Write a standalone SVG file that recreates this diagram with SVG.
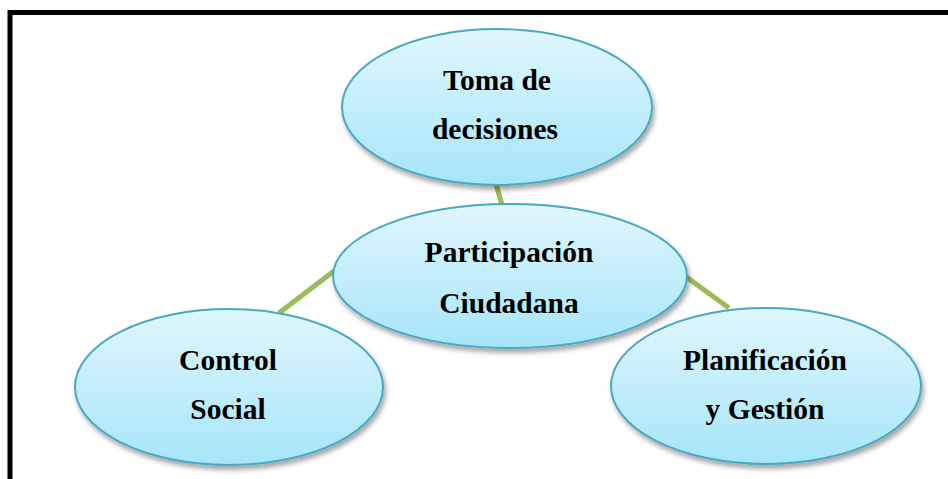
<svg xmlns="http://www.w3.org/2000/svg" width="948" height="479" viewBox="0 0 948 479">
<defs>
<linearGradient id="fill" x1="0" y1="0" x2="0" y2="1">
<stop offset="0" stop-color="#e0f7fd"/>
<stop offset="1" stop-color="#a6e5fa"/>
</linearGradient>
<filter id="shadow" x="-10%" y="-10%" width="125%" height="130%">
<feGaussianBlur in="SourceAlpha" stdDeviation="2.5"/>
<feOffset dx="2" dy="4" result="b"/>
<feComponentTransfer><feFuncA type="linear" slope="0.35"/></feComponentTransfer>
<feMerge><feMergeNode/><feMergeNode in="SourceGraphic"/></feMerge>
</filter>
</defs>
<style>
.node ellipse{fill:url(#fill);stroke:#4aa8c4;stroke-width:2;filter:url(#shadow)}
.node text{font-family:"Liberation Serif","Times New Roman",serif;font-weight:bold;font-size:29.5px;fill:#000;text-anchor:middle}
.conn line{stroke:#9bbb59;stroke-width:5}
</style>
<rect x="0" y="0" width="948" height="479" fill="#fff"/>
<rect x="10" y="12.5" width="960" height="480" fill="none" stroke="#000" stroke-width="5"/>
<g id="connectors" class="conn">
<line x1="496" y1="184" x2="502" y2="205"/>
<line x1="279" y1="313" x2="334" y2="271"/>
<line x1="685" y1="276" x2="729" y2="308"/>
</g>
<g id="toma" class="node">
<ellipse cx="497" cy="107" rx="155" ry="78"/>
<text x="497" y="90">Toma de</text>
<text x="495" y="139">decisiones</text>
</g>
<g id="participacion" class="node">
<ellipse cx="510" cy="276" rx="177" ry="72"/>
<text x="509" y="262">Participación</text>
<text x="509" y="313">Ciudadana</text>
</g>
<g id="control" class="node">
<ellipse cx="229" cy="387" rx="154" ry="78"/>
<text x="228" y="370">Control</text>
<text x="228" y="419">Social</text>
</g>
<g id="planificacion" class="node">
<ellipse cx="766" cy="386" rx="155" ry="78"/>
<text x="765" y="370">Planificación</text>
<text x="765" y="419">y Gestión</text>
</g>
</svg>
